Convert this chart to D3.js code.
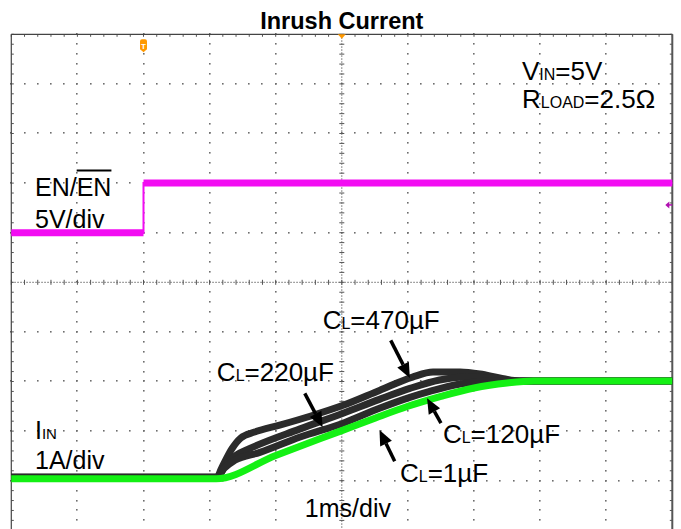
<!DOCTYPE html>
<html><head><meta charset="utf-8">
<script src="https://cdn.jsdelivr.net/npm/d3@7"></script>
<style>html,body{margin:0;padding:0;background:#fff;} svg{display:block;font-family:"Liberation Sans",Arial,sans-serif;}</style>
</head><body><svg id="c" width="681" height="529"></svg>
<script>
// ---------- data ----------
const title = "Inrush Current";
const xDivs = [-5,-4,-3,-2,-1,0,1,2,3,4,5];      // time, ms (1 ms/div)
const yDivs = [-5,-4,-3,-2,-1,0,1,2,3,4,5];      // screen divisions
const minorPerDiv = 5;

// EN channel (5 V/div)
const enTime  = [-5, -3, -3, 5];
const enVolts = [0, 0, 5, 5];
const enOffsetDiv = 1, voltsPerDiv = 5;
const triggerTime = -3, triggerLevel = 2.8;

// Input current channel (1 A/div)
const iOffsetDiv = -3.96, ampsPerDiv = 1;
const t1uF   = [-5, -1.9, -1.0, 0, 0.5, 1.0, 1.5, 2.0, 2.5, 2.9, 5];
const i1uF   = [0, 0, 0.47, 0.97, 1.22, 1.46, 1.66, 1.83, 1.93, 1.97, 1.97];
const t120uF = [-5, -1.89, -1.78, -1.62, -1.24, -0.63, 0.02, 0.57, 1.03, 1.33, 1.79, 2.24, 5];
const i120uF = [0.03, 0.03, 0.21, 0.37, 0.53, 0.84, 1.12, 1.42, 1.64, 1.76, 1.91, 1.97, 1.97];
const t220uF = [-5, -1.88, -1.77, -1.60, -1.39, -0.64, 0.02, 0.57, 1.03, 1.48, 1.86, 2.24, 2.69, 5];
const i220uF = [0.03, 0.03, 0.25, 0.47, 0.61, 1.00, 1.32, 1.60, 1.82, 1.99, 2.05, 2.03, 1.97, 1.97];
const t470uF = [-5, -1.89, -1.82, -1.66, -1.53, -1.32, -0.94, -0.48, 0.02, 0.57, 1.07, 1.38, 1.79, 2.09, 2.39, 2.69, 5];
const i470uF = [0.03, 0.03, 0.21, 0.61, 0.82, 0.94, 1.08, 1.26, 1.48, 1.78, 2.05, 2.15, 2.15, 2.11, 2.03, 1.97, 1.97];

// Capacitor labels: name, label anchor (t, I), arrow tail (t, I), arrow tip (t, I)
const capNames  = ["470µF", "220µF", "120µF", "1µF"];
const capLabelT = [-0.29, -1.89, 1.53, 0.88];
const capLabelI = [3.02, 1.97, 0.72, -0.07];
const arrowTailT = [0.74, -0.56, 1.50, 0.80];
const arrowTailI = [2.79, 1.72, 1.12, 0.35];
const arrowTipT  = [1.03, -0.29, 1.29, 0.57];
const arrowTipI  = [2.03, 1.04, 1.62, 0.98];

// ---------- scales ----------
const svg = d3.select("#c");
const L = 11.3, R = 672.3, T = 34.3, B = 530.3;
const x = d3.scaleLinear().domain([-5, 5]).range([L, R]);
const yd = d3.scaleLinear().domain([-5, 5]).range([B, T]);
const yEN = v => yd(enOffsetDiv + v / voltsPerDiv);
const yI  = a => yd(iOffsetDiv + a / ampsPerDiv);

// ---------- grid ----------
const g = svg.append("g");
const minorX = d3.range(-5, 5.0001, 1 / minorPerDiv);
const minorY = d3.range(-5, 5.0001, 1 / minorPerDiv);
const dots = [];
xDivs.filter(d => d !== 0 && Math.abs(d) !== 5).forEach(d => minorY.forEach(m => dots.push([x(d), yd(m)])));
yDivs.filter(d => d !== 0 && Math.abs(d) !== 5).forEach(d => minorX.forEach(m => dots.push([x(m), yd(d)])));
g.selectAll("rect.dot").data(dots).join("rect").attr("class", "dot")
  .attr("x", d => Math.round(d[0]) - 1).attr("y", d => Math.round(d[1]) - 1)
  .attr("width", 1.6).attr("height", 1.6).attr("fill", "#6e6e6e");

// centre lines
g.append("line").attr("x1", x(0)).attr("x2", x(0)).attr("y1", T).attr("y2", B)
  .attr("stroke", "#6a6a6a").attr("stroke-width", 1).attr("stroke-dasharray", "1.5,1.5");
g.append("line").attr("x1", L).attr("x2", R).attr("y1", yd(0)).attr("y2", yd(0))
  .attr("stroke", "#6a6a6a").attr("stroke-width", 1).attr("stroke-dasharray", "1.5,1.5");
g.selectAll("line.cx").data(minorY).join("line").attr("class", "cx")
  .attr("x1", x(0) - 2.5).attr("x2", x(0) + 2.5).attr("y1", d => yd(d)).attr("y2", d => yd(d))
  .attr("stroke", "#555").attr("stroke-width", 1);
g.selectAll("line.cy").data(minorX).join("line").attr("class", "cy")
  .attr("y1", yd(0) - 2.5).attr("y2", yd(0) + 2.5).attr("x1", d => x(d)).attr("x2", d => x(d))
  .attr("stroke", "#555").attr("stroke-width", 1);

// border ticks
g.selectAll("line.tt").data(minorX).join("line").attr("class", "tt")
  .attr("x1", d => x(d)).attr("x2", d => x(d)).attr("y1", T).attr("y2", T + 2.5).attr("stroke", "#555");
g.selectAll("line.lt").data(minorY).join("line").attr("class", "lt")
  .attr("y1", d => yd(d)).attr("y2", d => yd(d)).attr("x1", L).attr("x2", L + 2.5).attr("stroke", "#555");
g.selectAll("line.rt").data(minorY).join("line").attr("class", "rt")
  .attr("y1", d => yd(d)).attr("y2", d => yd(d)).attr("x1", R).attr("x2", R - 2.5).attr("stroke", "#555");
// border
g.append("line").attr("x1", L).attr("x2", R).attr("y1", T).attr("y2", T).attr("stroke", "#444").attr("stroke-width", 1.2);
g.append("line").attr("x1", L).attr("x2", L).attr("y1", T).attr("y2", B).attr("stroke", "#444").attr("stroke-width", 1.2);
g.append("line").attr("x1", R).attr("x2", R).attr("y1", T).attr("y2", B).attr("stroke", "#555").attr("stroke-width", 2);

// ---------- traces ----------
const lineEN = d3.line().x(d => x(d[0])).y(d => yEN(d[1]));
const enPts = enTime.map((t, i) => [t, enVolts[i]]);
svg.append("path").attr("d", lineEN(enPts)).attr("fill", "none").attr("stroke", "#f20cf2").attr("stroke-width", 2);
for (let i = 0; i < enPts.length - 1; i++) {
  if (enPts[i][1] === enPts[i + 1][1]) {
    svg.append("path").attr("d", lineEN([enPts[i], enPts[i + 1]])).attr("fill", "none")
      .attr("stroke", "#f20cf2").attr("stroke-width", 7);
  }
}

const lineI = d3.line().curve(d3.curveMonotoneX).x(d => x(d[0])).y(d => yI(d[1]));
const blackSeries = [[t470uF, i470uF], [t220uF, i220uF], [t120uF, i120uF]];
blackSeries.forEach(([ts, is]) => {
  svg.append("path").attr("d", lineI(ts.map((t, i) => [t, is[i]])))
    .attr("fill", "none").attr("stroke", "#2b2b2b").attr("stroke-width", 7).attr("stroke-linejoin", "round");
});
svg.append("path").attr("d", lineI(t1uF.map((t, i) => [t, i1uF[i]])))
  .attr("fill", "none").attr("stroke", "#14f014").attr("stroke-width", 7).attr("stroke-linejoin", "round");

// ---------- markers ----------
const tx = x(triggerTime);
svg.append("path").attr("d", `M${tx-3.5},${T+7} q0,-2 2,-2 h3 q2,0 2,2 v8 l-3.5,3 l-3.5,-3 z`).attr("fill", "#ff9900");
svg.append("text").attr("x", tx).attr("y", T + 15).attr("text-anchor", "middle").attr("font-size", 8)
  .attr("font-weight", "bold").attr("fill", "#fff").text("T");
svg.append("path").attr("d", `M${x(0)-4},${T} L${x(0)+4},${T} L${x(0)},${T+4.5} Z`).attr("fill", "#ff9900");
const ty = yEN(triggerLevel);
svg.append("path").attr("d", `M${R-7},${ty} L${R-3},${ty-3.5} L${R-3},${ty+3.5} Z`).attr("fill", "#b010b0");
svg.append("line").attr("x1", R - 4).attr("x2", R).attr("y1", ty).attr("y2", ty).attr("stroke", "#b010b0").attr("stroke-width", 1.5);

// ---------- text ----------
svg.append("text").attr("x", x(0)).attr("y", 28.5).attr("text-anchor", "middle")
  .attr("font-size", 23.5).attr("font-weight", "bold").text(title);

function subText(px, py, main, sub, rest, fs, ss) {
  const t = svg.append("text").attr("x", px).attr("y", py).attr("font-size", fs).attr("fill", "#000");
  t.append("tspan").text(main);
  t.append("tspan").attr("font-size", ss).text(sub);
  t.append("tspan").text(rest);
  return t;
}
subText(522, 80, "V", "IN", "=5V", 26, 16);
subText(522, 108, "R", "LOAD", "=2.5Ω", 26, 16);

const en = svg.append("text").attr("x", 35).attr("y", 196).attr("font-size", 25);
en.append("tspan").text("EN/");
en.append("tspan").text("EN");
const enNode = en.node();
const ox0 = 35 + enNode.getSubStringLength(0, 3);
const ox1 = 35 + enNode.getSubStringLength(0, 5);
svg.append("line").attr("x1", ox0).attr("x2", ox1).attr("y1", 170.5).attr("y2", 170.5).attr("stroke", "#000").attr("stroke-width", 2);
svg.append("text").attr("x", 35).attr("y", 228).attr("font-size", 25).text("5V/div");

subText(35, 439, "I", "IN", "", 25, 15);
svg.append("text").attr("x", 35).attr("y", 469).attr("font-size", 25).text("1A/div");
svg.append("text").attr("x", x(0) - 37).attr("y", 517).attr("font-size", 25).text("1ms/div");

capNames.forEach((n, k) => {
  subText(x(capLabelT[k]), yI(capLabelI[k]), "C", "L", "=" + n, 26, 16);
  const x1 = x(arrowTailT[k]), y1 = yI(arrowTailI[k]), x2 = x(arrowTipT[k]), y2 = yI(arrowTipI[k]);
  const ang = Math.atan2(y2 - y1, x2 - x1), hl = 15, hw = 6.5;
  const bx = x2 - hl * Math.cos(ang), by = y2 - hl * Math.sin(ang);
  svg.append("line").attr("x1", x1).attr("y1", y1).attr("x2", bx).attr("y2", by)
    .attr("stroke", "#000").attr("stroke-width", 3.5);
  svg.append("path").attr("d",
    `M${x2},${y2} L${bx + hw * Math.sin(ang)},${by - hw * Math.cos(ang)} L${bx - hw * Math.sin(ang)},${by + hw * Math.cos(ang)} Z`)
    .attr("fill", "#000");
});
</script></body></html>
